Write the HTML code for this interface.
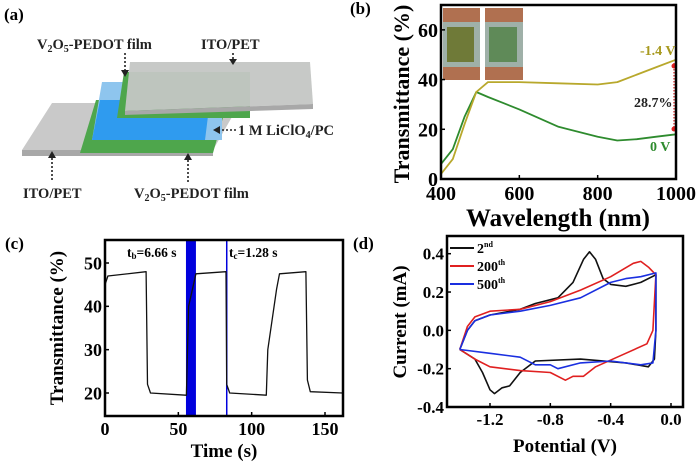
<!DOCTYPE html>
<html><head><meta charset="utf-8"><style>
body{margin:0;background:#fff}
svg{display:block;font-family:"Liberation Serif",serif;font-weight:bold}
</style></head><body>
<svg id="fig" width="700" height="467" viewBox="0 0 700 467">
<g>
<text x="4" y="20" font-size="17">(a)</text>
<polygon points="52,103 240,103 213,150 22,150" fill="#c9c9c9"/>
<polygon points="22,150 213,150 213,156 22,156" fill="#a8a8a8"/>
<polygon points="96,100 228,100 213,153 80,153" fill="#4ea64c"/>
<polygon points="102,82 222,82 222,140 92,140" fill="#8ec5ee"/>
<polygon points="100,100 210,100 205,140 92,140" fill="#2f9bef"/>
<polygon points="124,72 250,72 250,118 117,118" fill="#4ea64c"/>
<polygon points="130,62 310,62 313,104 125,111" fill="#c4c6c4" fill-opacity="0.95"/>
<polygon points="125,111 313,104 313,109 125,115" fill="#a8a8a8"/>
<g font-size="14.5" fill="#222">
<text x="37" y="49">V<tspan font-size="10" dy="3">2</tspan><tspan dy="-3">O</tspan><tspan font-size="10" dy="3">5</tspan><tspan dy="-3">-PEDOT film</tspan></text>
<text x="201" y="49">ITO/PET</text>
<text x="238" y="135">1 M LiClO<tspan font-size="10" dy="3">4</tspan><tspan dy="-3">/PC</tspan></text>
<text x="23" y="198">ITO/PET</text>
<text x="134" y="198">V<tspan font-size="10" dy="3">2</tspan><tspan dy="-3">O</tspan><tspan font-size="10" dy="3">5</tspan><tspan dy="-3">-PEDOT film</tspan></text>
</g>
<g stroke="#222" stroke-width="1.6" stroke-dasharray="2,2" fill="#222">
<line x1="125" y1="53" x2="125" y2="72"/><polygon points="121,70 129,70 125,77" stroke="none"/>
<line x1="233" y1="53" x2="233" y2="60"/><polygon points="229,59 237,59 233,65" stroke="none"/>
<line x1="236" y1="130" x2="218" y2="130"/><polygon points="220,126 220,134 213,130" stroke="none"/>
<line x1="52" y1="180" x2="52" y2="157"/><polygon points="48,158 56,158 52,151" stroke="none"/>
<line x1="188" y1="182" x2="188" y2="159"/><polygon points="184,160 192,160 188,153" stroke="none"/>
</g>
</g>
<g id="pb">
<text x="350" y="14" font-size="17">(b)</text>
</g>
<g id="pc">
<text x="5" y="249" font-size="17">(c)</text>
</g>
<g id="pd">
<text x="353" y="249" font-size="17">(d)</text>
</g>
</svg>
<script>
const bWave=[400,430,460,490,520,560,600,700,800,850,900,950,1000];
const bNeg14=[2,8,22,35,39,39,39,38.5,38,39,42,45,48];
const bZero=[6,12,25,35,33,30.5,28,21,17,15.5,16,17,18];
const bXTicks=[400,600,800,1000];
const bYTicks=[0,20,40,60];
const cTime=[0,2,28,29,31,55,55.5,57,62,82.5,83,85,110,111,117,119,137,138,140,162];
const cTrans=[45,47,48,22,20,19.5,19.5,40,47.5,48,22,20,19.5,30,44,47.5,48,23,20.3,20];
const cXTicks=[0,50,100,150];
const cYTicks=[20,30,40,50];
const dBlackX=[-1.4,-1.35,-1.3,-1.2,-1.0,-0.9,-0.75,-0.65,-0.58,-0.54,-0.5,-0.45,-0.4,-0.3,-0.2,-0.1,-0.1,-0.11,-0.15,-0.3,-0.6,-0.9,-1.0,-1.07,-1.12,-1.17,-1.2,-1.25,-1.3,-1.4];
const dBlackY=[-0.1,0.0,0.05,0.08,0.11,0.14,0.17,0.25,0.37,0.41,0.37,0.27,0.24,0.23,0.25,0.29,0.0,-0.15,-0.19,-0.17,-0.15,-0.16,-0.22,-0.29,-0.3,-0.33,-0.31,-0.22,-0.15,-0.1];
const dRedX=[-1.4,-1.35,-1.3,-1.2,-1.0,-0.8,-0.6,-0.4,-0.25,-0.2,-0.15,-0.1,-0.12,-0.16,-0.3,-0.5,-0.58,-0.65,-0.7,-0.8,-1.0,-1.2,-1.3,-1.4];
const dRedY=[-0.1,0.02,0.07,0.1,0.11,0.15,0.21,0.28,0.35,0.36,0.33,0.29,0.0,-0.07,-0.12,-0.19,-0.24,-0.24,-0.26,-0.22,-0.21,-0.19,-0.15,-0.1];
const dBlueX=[-1.4,-1.35,-1.3,-1.2,-1.0,-0.8,-0.6,-0.4,-0.3,-0.2,-0.1,-0.1,-0.12,-0.2,-0.4,-0.6,-0.75,-0.8,-0.9,-1.0,-1.2,-1.4];
const dBlueY=[-0.1,0.0,0.05,0.08,0.1,0.13,0.17,0.25,0.27,0.28,0.3,0.0,-0.17,-0.18,-0.16,-0.17,-0.2,-0.18,-0.18,-0.14,-0.12,-0.1];
const dXTicks=[-1.2,-0.8,-0.4,0.0];
const dYTicks=[-0.4,-0.2,0.0,0.2,0.4];
const dLegend=["2nd","200th","500th"];

const NS="http://www.w3.org/2000/svg";
function mk(parent,tag,attrs,text){const e=document.createElementNS(NS,tag);for(const k in attrs)e.setAttribute(k,attrs[k]);if(text!==undefined)e.textContent=text;parent.appendChild(e);return e;}
function lin(d0,d1,r0,r1){return v=>r0+(v-d0)/(d1-d0)*(r1-r0);}
function frame(g,L,T,R,B,sw){const r=mk(g,'rect',{x:L,y:T,width:R-L,height:B-T,fill:'none',stroke:'#000','stroke-width':sw});

}
function path(g,xs,ys,sx,sy,color,w,name){let d='';for(let i=0;i<xs.length;i++)d+=(i?'L':'M')+sx(xs[i]).toFixed(1)+','+sy(ys[i]).toFixed(1);
const p=mk(g,'path',{d:d,fill:'none',stroke:color,'stroke-width':w,'stroke-linejoin':'round'});

return p;}
function axes(g,L,T,R,B,sx,sy,xt,yt,fs,fmtX,fmtY,tl){
 xt.forEach(v=>{const x=sx(v);mk(g,'line',{x1:x,y1:B,x2:x,y2:B-tl,stroke:'#000','stroke-width':1.5});
  const t=mk(g,'text',{x:x,y:B+fs+1,'font-size':fs,'text-anchor':'middle'},fmtX(v));
  
  });
 yt.forEach(v=>{const y=sy(v);mk(g,'line',{x1:L,y1:y,x2:L+tl,y2:y,stroke:'#000','stroke-width':1.5});
  const t=mk(g,'text',{x:L-3,y:y+fs*0.35,'font-size':fs,'text-anchor':'end'},fmtY(v));
  
  });
}
(function(){const g=document.getElementById('pb');const L=441,R=676,T=5,B=179;
const sx=lin(400,1000,L,R),sy=lin(0,70,B,T);
[[443,480],[485,523]].forEach((p,i)=>{mk(g,'rect',{x:p[0],y:8,width:p[1]-p[0],height:72,fill:'#b07050'});
 mk(g,'rect',{x:p[0],y:22,width:p[1]-p[0],height:45,fill:'#9fb0a8'});
 mk(g,'rect',{x:p[0]+4,y:27,width:p[1]-p[0]-10,height:35,fill:i?'#5f8a58':'#6f7a38'});});
path(g,bWave,bZero,sx,sy,'#2e8b2e',1.8,'series-0v');
path(g,bWave,bNeg14,sx,sy,'#b8a82c',1.8,'series-minus-1-4v');
mk(g,'line',{x1:674,y1:63,x2:674,y2:130,stroke:'#d02020','stroke-width':1.2,'stroke-dasharray':'1.5,1.5'});
mk(g,'circle',{cx:674,cy:66,r:2.5,fill:'#e02020'});mk(g,'circle',{cx:674,cy:129,r:2.5,fill:'#e02020'});
frame(g,L,T,R,B,2.5);
axes(g,L,T,R,B,sx,sy,bXTicks,bYTicks,20,v=>v,v=>v,4);
mk(g,'text',{x:640,y:55,'font-size':14,fill:'#a89a20'},'-1.4 V');
mk(g,'text',{x:650,y:151,'font-size':14,fill:'#2e8b2e'},'0 V');
mk(g,'text',{x:634,y:107,'font-size':14,fill:'#222'},'28.7%');
mk(g,'text',{x:409,y:94,'font-size':22,'text-anchor':'middle',transform:'rotate(-90 409 94)'},'Transmittance (%)');
mk(g,'text',{x:558,y:226,'font-size':25,'text-anchor':'middle'},'Wavelength (nm)');
})();
(function(){const g=document.getElementById('pc');const L=105,R=343,T=240,B=416;
const sx=lin(0,150,L,325),sy=lin(20,50,393,263);
mk(g,'rect',{x:sx(55.2),y:T,width:sx(62)-sx(55.2),height:B-T,fill:'#0000dd'});
mk(g,'line',{x1:sx(83),y1:T,x2:sx(83),y2:B,stroke:'#0000dd','stroke-width':1.5});
path(g,cTime,cTrans,sx,sy,'#111',1.3,'transmittance-trace');
frame(g,L,T,R,B,2.5);
axes(g,L,T,R,B,sx,sy,cXTicks,cYTicks,18,v=>v,v=>v,4);
const t1=mk(g,'text',{x:127,y:257,'font-size':13.5});t1.innerHTML='t<tspan font-size="9" dy="2">b</tspan><tspan dy="-2">=6.66 s</tspan>';
const t2=mk(g,'text',{x:229,y:257,'font-size':13.5});t2.innerHTML='t<tspan font-size="9" dy="2">c</tspan><tspan dy="-2">=1.28 s</tspan>';
mk(g,'text',{x:63,y:328,'font-size':19,'text-anchor':'middle',transform:'rotate(-90 63 328)'},'Transmittance (%)');
mk(g,'text',{x:224,y:457,'font-size':19,'text-anchor':'middle'},'Time (s)');
})();
(function(){const g=document.getElementById('pd');const L=447,R=683,T=236,B=407;
const sx=lin(-1.2,0.0,490,671),sy=lin(-0.4,0.4,B,253.7);
path(g,dBlackX,dBlackY,sx,sy,'#111',1.6,'cycle-2nd');
path(g,dRedX,dRedY,sx,sy,'#e02020',1.6,'cycle-200th');
path(g,dBlueX,dBlueY,sx,sy,'#1a2fe0',1.6,'cycle-500th');
frame(g,L,T,R,B,2.5);
axes(g,L,T,R,B,sx,sy,dXTicks,dYTicks,17,v=>v.toFixed(1),v=>v.toFixed(1),4);
const cols=['#111','#e02020','#1a2fe0'];
dLegend.forEach((s,i)=>{const y=248+i*18;
 const l=mk(g,'line',{x1:450,y1:y,x2:474,y2:y,stroke:cols[i],'stroke-width':2});
 
 
 const m=s.match(/^(\d+)(\w+)$/);
 const t=mk(g,'text',{x:477,y:y+5,'font-size':14});t.innerHTML=m[1]+'<tspan font-size="8" dy="-6">'+m[2]+'</tspan>';
 
 });
mk(g,'text',{x:406,y:322,'font-size':19,'text-anchor':'middle',transform:'rotate(-90 406 322)'},'Current  (mA)');
mk(g,'text',{x:565,y:452,'font-size':19,'text-anchor':'middle'},'Potential (V)');
})();
</script>
</body></html>
